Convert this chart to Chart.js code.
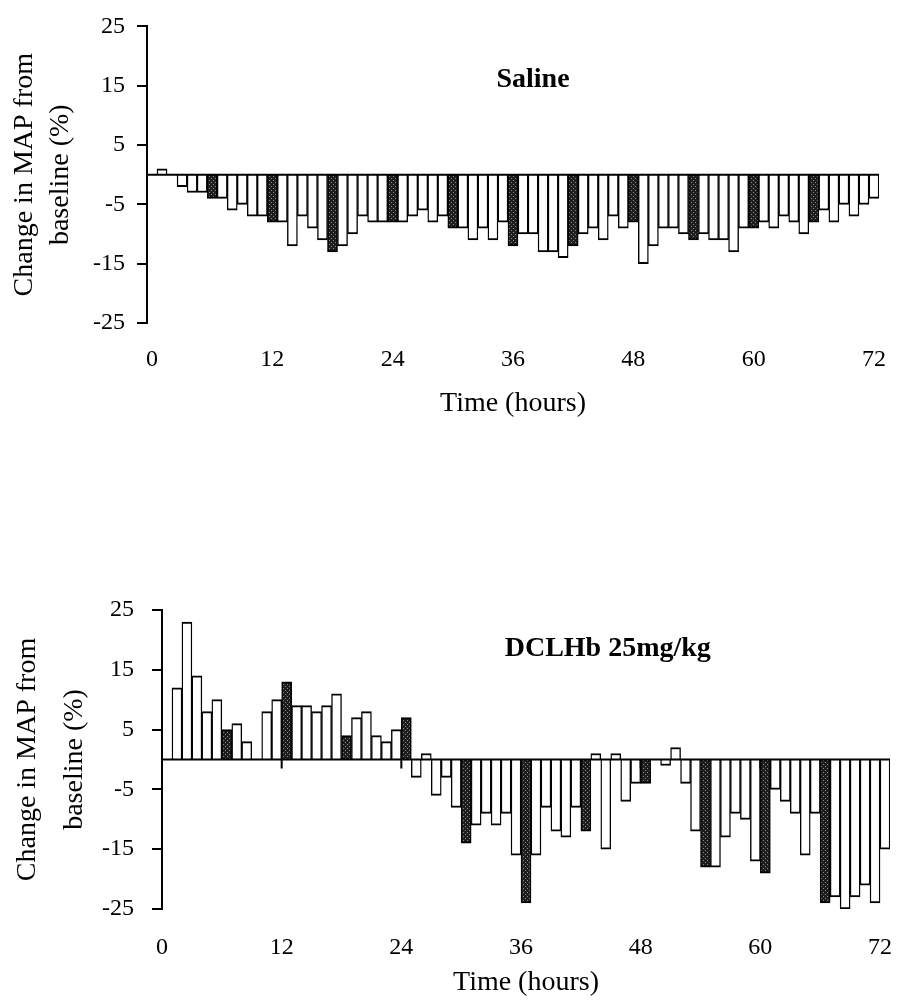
<!DOCTYPE html>
<html>
<head>
<meta charset="utf-8">
<script src="https://cdn.jsdelivr.net/npm/chart.js@4.4.1/dist/chart.umd.min.js"></script>
<style>
  body { margin: 0; background: #fff; }
  #wrap { position: relative; width: 908px; height: 1000px; }
  canvas { position: absolute; left: 0; }
</style>
</head>
<body>
<div id="wrap">
  <canvas id="saline" width="908" height="430" style="top:0"></canvas>
  <canvas id="dclhb" width="908" height="570" style="top:430px"></canvas>
</div>
<script>
// hours after infusion, one bar per hour
const hours = [0, 1, 2, 3, 4, 5, 6, 7, 8, 9, 10, 11, 12, 13, 14, 15, 16, 17, 18,
  19, 20, 21, 22, 23, 24, 25, 26, 27, 28, 29, 30, 31, 32, 33, 34, 35, 36,
  37, 38, 39, 40, 41, 42, 43, 44, 45, 46, 47, 48, 49, 50, 51, 52, 53, 54,
  55, 56, 57, 58, 59, 60, 61, 62, 63, 64, 65, 66, 67, 68, 69, 70, 71, 72]

// change in MAP from baseline (%)
const saline = [0, 1, 0, -2, -3, -3, -4, -4, -6, -5, -7, -7, -8, -8, -12, -7, -9, -11, -13,
  -12, -10, -7, -8, -8, -8, -8, -7, -6, -8, -7, -9, -9, -11, -9, -11, -8, -12,
  -10, -10, -13, -13, -14, -12, -10, -9, -11, -7, -9, -8, -15, -12, -9, -9, -10, -11,
  -10, -11, -11, -13, -9, -9, -8, -9, -7, -8, -10, -8, -6, -8, -5, -7, -5, -4]

const dclhb = [0, 12, 23, 14, 8, 10, 5, 6, 3, 0, 8, 10, 13, 9, 9, 8, 9, 11, 4,
  7, 8, 4, 3, 5, 7, -3, 1, -6, -3, -8, -14, -11, -9, -11, -9, -16, -24,
  -16, -8, -12, -13, -8, -12, 1, -15, 1, -7, -4, -4, 0, -1, 2, -4, -12, -18,
  -18, -13, -9, -10, -17, -19, -5, -7, -9, -16, -9, -24, -23, -25, -23, -21, -24, -15]

// hours drawn with the dark bar
const darkHours = [6, 12, 18, 24, 30, 36, 42, 48, 54, 60, 66]
const tickHours = [0, 12, 24, 36, 48, 60, 72]
const yTitle = ['Change in MAP from', 'baseline (%)']

Chart.defaults.font.family = "'Liberation Serif', 'DejaVu Serif', serif"
Chart.defaults.color = '#000'

// stippled dark fill like the print
function stipple() {
    let c = document.createElement('canvas')
    c.width = 4
    c.height = 4
    let g = c.getContext('2d')
    g.fillStyle = '#1e1e1e'
    g.fillRect(0, 0, 4, 4)
    g.fillStyle = '#8a8a8a'
    g.fillRect(1, 0, 1, 1)
    g.fillRect(3, 2, 1, 1)
    return g.createPattern(c, 'repeat')
}
const darkFill = stipple()

// zero baseline, optional tick marks on it and the panel label
const zeroLine = {
    id: 'zeroLine',
    afterDatasetsDraw(chart, args, opts) {
        const { ctx, chartArea, scales: { x, y } } = chart
        const y0 = y.getPixelForValue(0)
        ctx.save()
        ctx.strokeStyle = '#000'
        ctx.lineWidth = 2
        ctx.beginPath()
        ctx.moveTo(chartArea.left, y0)
        ctx.lineTo(chartArea.right, y0)
        ;(opts.marks || []).forEach(function (h) {
            let px = x.getPixelForValue(hours.indexOf(h) - 0.5)
            ctx.moveTo(px, y0)
            ctx.lineTo(px, y0 + opts.markLength)
        })
        ctx.stroke()
        ctx.font = "bold 28px 'Liberation Serif'"
        ctx.fillStyle = '#000'
        ctx.textAlign = 'center'
        ctx.textBaseline = 'middle'
        ctx.fillText(opts.label, x.getPixelForValue(opts.labelAt[0]), y.getPixelForValue(opts.labelAt[1]))
        ctx.restore()
    }
}

function panel(id, values, cfg) {
    return new Chart(document.getElementById(id), {
        type: 'bar',
        data: {
            labels: hours,
            datasets: [{
                data: values,
                backgroundColor: hours.map(h => darkHours.includes(h) ? darkFill : '#fff'),
                borderColor: '#000',
                borderWidth: { top: 2, bottom: 2, left: 1.4, right: 1.4 },
                borderSkipped: 'start',
                barPercentage: 1,
                categoryPercentage: 1,
            }]
        },
        options: {
            responsive: false,
            animation: false,
            layout: { padding: { top: cfg.top, right: cfg.right, left: 0, bottom: 0 } },
            plugins: {
                legend: { display: false },
                tooltip: { enabled: false },
                zeroLine: cfg.zero,
            },
            scales: {
                x: {
                    offset: true,
                    // invisible tick marks just push the labels down
                    grid: { drawOnChartArea: false, tickLength: cfg.xPad, color: 'rgba(0,0,0,0)' },
                    border: { display: false },
                    ticks: {
                        autoSkip: false,
                        maxRotation: 0,
                        font: { size: 24 },
                        padding: 0,
                        labelOffset: cfg.labelOffset,
                        callback: (v, i) => tickHours.includes(hours[i]) ? String(hours[i]) : '',
                    },
                    title: {
                        display: true,
                        text: 'Time (hours)',
                        font: { size: 28 },
                        padding: { top: 0, bottom: cfg.xTitlePad },
                    },
                    afterFit: s => { s.height = cfg.xHeight },
                },
                y: {
                    min: -25,
                    max: 25,
                    ticks: { stepSize: 10, font: { size: 24 }, padding: cfg.yPad },
                    grid: { drawOnChartArea: false, tickLength: 10, color: '#000', lineWidth: 2 },
                    border: { color: '#000', width: 2 },
                    title: {
                        display: true,
                        text: yTitle,
                        font: { size: 28, lineHeight: cfg.yLine },
                        padding: { top: cfg.yTitlePad, bottom: 0 },
                    },
                    afterFit: s => { s.width = cfg.yWidth },
                },
            },
        },
        plugins: [zeroLine],
    })
}

panel('saline', saline, {
    top: 23, right: 29, xPad: 22, xTitlePad: 10, xHeight: 107,
    yPad: 12, yWidth: 147, yLine: 1.3, yTitlePad: 6, labelOffset: 0,
    zero: { label: 'Saline', labelAt: [38, 16], marks: [], markLength: 0 },
})

panel('dclhb', dclhb, {
    top: 180, right: 18, xPad: 24, xTitlePad: 1, xHeight: 91,
    yPad: 18, yWidth: 162, yLine: 1.65, yTitlePad: 5, labelOffset: -5,
    zero: { label: 'DCLHb 25mg/kg', labelAt: [44.2, 18.5], marks: [12, 24, 36, 48, 60, 72], markLength: 9 },
})
</script>
</body>
</html>
